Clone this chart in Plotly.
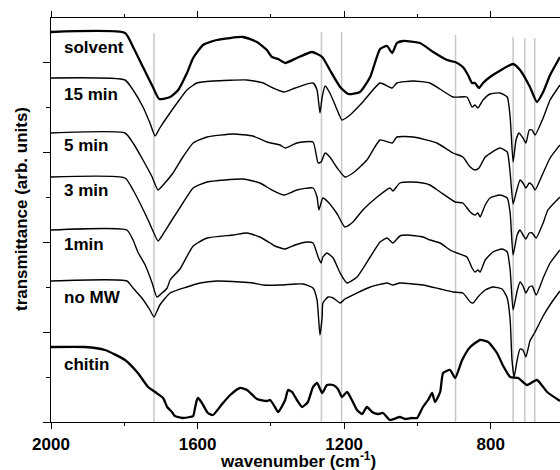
import plotly.graph_objects as go

# wavenumber (cm^-1) and transmittance (arb. units, offset spectra)
solvent_wn = [2000, 1798, 1776, 1749, 1722, 1705, 1675, 1653, 1629, 1612, 1585, 1547, 1476, 1438, 1411, 1397,
              1380, 1361, 1329, 1288, 1260, 1239, 1211, 1189, 1157, 1129, 1102, 1083, 1069, 1056, 1039, 993,
              957, 919, 897, 876, 862, 851, 843, 832, 821, 802, 739, 720, 693, 674, 657, 638, 611]
solvent_t = [390, 389, 375, 355, 335, 323, 325, 332, 349, 364, 377, 382, 385, 380, 372, 365,
             363, 359, 364, 370, 365, 352, 335, 328, 330, 345, 373, 376, 369, 379, 381, 379,
             370, 362, 360, 355, 347, 339, 339, 334, 339, 345, 358, 352, 335, 320, 330, 347, 365]

min15_wn = [2000, 1798, 1776, 1749, 1730, 1716, 1703, 1683, 1656, 1629, 1602, 1558, 1465, 1421, 1394, 1364,
            1334, 1285, 1274, 1266, 1260, 1252, 1239, 1219, 1206, 1184, 1149, 1102, 1069, 1056, 1012, 966,
            903, 865, 851, 843, 835, 821, 802, 775, 755, 747, 739, 731, 723, 712, 704, 695, 687, 679, 657,
            638, 611]
min15_t = [344, 342, 332, 315, 299, 286, 294, 305, 319, 332, 339, 341, 342, 339, 334, 330,
           334, 339, 332, 309, 325, 336, 329, 312, 302, 307, 320, 339, 334, 339, 341, 339,
           325, 325, 315, 317, 314, 322, 328, 329, 325, 305, 260, 282, 289, 284, 279, 292, 292, 287, 304,
           322, 337]

min5_wn = [2000, 1798, 1776, 1749, 1724, 1708, 1694, 1667, 1640, 1612, 1574, 1503, 1449, 1411, 1375, 1361,
           1329, 1285, 1271, 1263, 1252, 1239, 1219, 1198, 1176, 1138, 1102, 1069, 1056, 1012, 947, 903,
           876, 856, 843, 832, 815, 775, 755, 747, 739, 731, 720, 712, 704, 695, 687, 679, 657, 638, 611]
min5_t = [289, 289, 279, 262, 245, 232, 237, 249, 265, 279, 285, 288, 286, 280, 277, 274,
          279, 280, 259, 260, 269, 265, 254, 245, 249, 262, 282, 279, 285, 285, 279, 269,
          265, 255, 252, 254, 265, 274, 270, 249, 218, 229, 242, 239, 234, 239, 237, 232, 249, 264, 277]

min3_wn = [2000, 1798, 1776, 1752, 1735, 1708, 1703, 1670, 1640, 1612, 1574, 1476, 1430, 1397, 1364, 1329,
           1285, 1274, 1269, 1258, 1244, 1219, 1198, 1176, 1149, 1110, 1075, 1067, 1048, 1020, 985, 966,
           938, 897, 876, 856, 843, 835, 829, 815, 802, 775, 755, 747, 739, 728, 720, 712, 704, 695, 687,
           676, 657, 644, 611]
min3_t = [245, 244, 232, 215, 202, 181, 183, 202, 219, 234, 240, 243, 239, 232, 227, 232,
          234, 225, 212, 224, 220, 208, 195, 200, 212, 225, 234, 231, 239, 240, 239, 237,
          230, 220, 219, 210, 207, 209, 205, 217, 224, 227, 224, 209, 167, 187, 192, 187, 183, 189, 189,
          184, 199, 212, 225]

min1_wn = [2000, 1793, 1776, 1763, 1743, 1724, 1711, 1697, 1683, 1675, 1648, 1612, 1574, 1503, 1465, 1430,
           1402, 1389, 1361, 1334, 1301, 1285, 1271, 1263, 1258, 1247, 1230, 1211, 1192, 1165, 1129, 1102,
           1083, 1067, 1048, 1028, 985, 966, 938, 911, 892, 865, 851, 843, 835, 829, 815, 794, 769, 755,
           747, 739, 728, 720, 712, 704, 695, 687, 676, 657, 638, 611]
min1_t = [192, 192, 182, 170, 157, 139, 125, 129, 134, 142, 153, 176, 184, 187, 189, 185,
          179, 176, 173, 177, 180, 179, 165, 159, 165, 169, 164, 149, 139, 145, 165, 180,
          184, 179, 186, 187, 185, 182, 179, 172, 169, 165, 154, 150, 152, 150, 162, 170, 173, 170,
          152, 112, 131, 140, 136, 129, 135, 136, 127, 144, 159, 172]

nomw_wn = [2000, 1793, 1776, 1752, 1730, 1719, 1703, 1675, 1629, 1593, 1547, 1484, 1449, 1421, 1375, 1334,
           1312, 1285, 1274, 1266, 1260, 1258, 1244, 1230, 1211, 1198, 1165, 1129, 1083, 1067, 1048, 985,
           938, 903, 876, 856, 848, 835, 815, 794, 769, 755, 747, 742, 736, 728, 720, 712, 704, 693, 679,
           657, 633, 611]
nomw_t = [141, 141, 134, 124, 112, 105, 117, 129, 135, 139, 141, 140, 139, 137, 137, 138,
          138, 134, 122, 87, 105, 119, 125, 124, 119, 123, 129, 135, 139, 137, 139, 137,
          133, 130, 129, 120, 119, 125, 132, 135, 133, 124, 102, 62, 45, 62, 73, 72, 65, 81, 90,
          106, 120, 131]

chitin_wn = [2000, 1907, 1853, 1798, 1763, 1735, 1716, 1694, 1683, 1670, 1662, 1642, 1621, 1612, 1607, 1602,
             1599, 1588, 1572, 1558, 1533, 1511, 1484, 1465, 1438, 1411, 1402, 1389, 1380, 1361, 1353, 1342,
             1329, 1315, 1299, 1285, 1274, 1260, 1247, 1230, 1217, 1206, 1192, 1179, 1165, 1151, 1138, 1124,
             1108, 1094, 1075, 1048, 1034, 1015, 1001, 985, 971, 960, 952, 938, 930, 911, 897, 878, 856,
             829, 807, 783, 766, 747, 725, 701, 674, 646, 611]
chitin_t = [75, 75, 72, 62, 49, 35, 30, 24, 15, 10, 6, 4, 5, 6, 14, 22,
            24, 19, 9, 7, 18, 27, 34, 32, 23, 21, 22, 15, 10, 22, 32, 30,
            22, 15, 20, 35, 39, 29, 37, 37, 33, 25, 30, 22, 12, 8, 15, 10,
            8, 9, 2, 5, 3, 4, 4, 15, 22, 29, 20, 30, 49, 52, 44, 62, 75,
            82, 80, 69, 56, 45, 44, 37, 42, 30, 21]

series = [
    ("solvent", solvent_wn, solvent_t, 2.3),
    ("15 min", min15_wn, min15_t, 1.4),
    ("5 min", min5_wn, min5_t, 1.4),
    ("3 min", min3_wn, min3_t, 1.4),
    ("1min", min1_wn, min1_t, 1.4),
    ("no MW", nomw_wn, nomw_t, 1.4),
    ("chitin", chitin_wn, chitin_t, 2.3),
]
label_y = [375, 328, 277, 232, 178, 125, 58]

marker_lines = [1719, 1262, 1207, 896, 739, 707, 680]
marker_tops = [389, 390, 390, 387, 385, 384, 384]

x_ticks = [2000, 1600, 1200, 800]
x_minor = [1800, 1400, 1000]
y_major = [0, 89.8, 179.6, 269.4, 359.2]
y_minor = [44.9, 134.7, 224.5, 314.3]

FONT = "Arial, Liberation Sans, sans-serif"

fig = go.Figure()
for name, wn, t, w in series:
    fig.add_trace(go.Scatter(x=wn, y=t, mode="lines", name=name,
                             line=dict(color="black", width=w, shape="spline", smoothing=0.5),
                             showlegend=False))

for xv, top in zip(marker_lines, marker_tops):
    fig.add_shape(type="line", x0=xv, x1=xv, y0=0, y1=top, xref="x", yref="y",
                  line=dict(color="#c8c8c8", width=1.5), layer="below")

for (name, _, _, _), ly in zip(series, label_y):
    fig.add_annotation(x=1970, y=ly, xref="x", yref="y", text=name, showarrow=False,
                       xanchor="left", yanchor="middle",
                       font=dict(family=FONT, size=17, color="black", weight="bold"))

fig.add_annotation(x=(298 - 51) / 509, y=(422 - 460) / 404, xref="paper", yref="paper",
                   text="wavenumber (cm<sup>-1</sup>)", showarrow=False,
                   xanchor="center", yanchor="middle",
                   font=dict(family=FONT, size=17, color="black", weight="bold"))
fig.add_annotation(x=(21 - 51) / 509, y=(422 - 209) / 404, xref="paper", yref="paper",
                   text="transmittance (arb. units)", showarrow=False, textangle=-90,
                   xanchor="center", yanchor="middle",
                   font=dict(family=FONT, size=17, color="black", weight="bold"))

fig.update_layout(
    width=560, height=470,
    margin=dict(l=51, r=0, t=18, b=48, autoexpand=False),
    paper_bgcolor="white", plot_bgcolor="white",
    font=dict(family=FONT, size=17, color="black"),
    xaxis=dict(range=[2000, 611], tickmode="array", tickvals=x_ticks,
               ticktext=[str(v) for v in x_ticks],
               ticks="outside", ticklen=6, tickwidth=1.3, tickcolor="black",
               showline=True, linecolor="black", linewidth=1.3, mirror="ticks",
               showgrid=False, zeroline=False,
               tickfont=dict(family=FONT, size=17, color="black", weight="bold"),
               minor=dict(tickmode="array", tickvals=x_minor, ticks="outside", ticklen=3,
                          tickwidth=1.3, tickcolor="black", showgrid=False)),
    yaxis=dict(range=[0, 404], tickmode="array", tickvals=y_major, showticklabels=False,
               ticks="outside", ticklen=7, tickwidth=1.3, tickcolor="black",
               showline=True, linecolor="black", linewidth=1.3, mirror=False,
               showgrid=False, zeroline=False,
               minor=dict(tickmode="array", tickvals=y_minor, ticks="outside", ticklen=4,
                          tickwidth=1.3, tickcolor="black", showgrid=False)),
)

# remove the default page margin so the 560x470 figure fills the window exactly
fig.write_html("out.html", config={"displayModeBar": False},
               post_script="document.body.style.margin='0';document.body.style.overflow='hidden';")
